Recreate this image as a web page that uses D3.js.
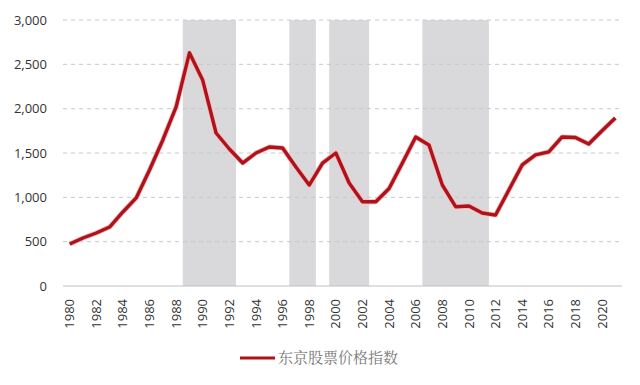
<!DOCTYPE html>
<html>
<head>
<meta charset="utf-8">
<script src="https://cdn.jsdelivr.net/npm/d3@7"></script>
<style>
  body { margin: 0; background: #fff; }
  svg text { font-family: "Open Sans", "Noto Sans", sans-serif; }
</style>
</head>
<body>
<svg id="chart" width="640" height="385"></svg>
<script>
// Tokyo stock price index, yearly
const years = d3.range(1980, 2022);
const values = [
  474, 541, 598, 665, 835, 993, 1308, 1647, 2020, 2630,
  2320, 1726, 1545, 1387, 1500, 1568, 1556, 1342, 1139, 1387,
  1500, 1162, 950, 950, 1100, 1387, 1680, 1590, 1139, 894,
  902, 823, 800, 1083, 1365, 1478, 1512, 1681, 1675, 1602,
  1750, 1895
];
// shaded periods (first year, last year)
const shaded = [[1989, 1992], [1997, 1998], [2000, 2002], [2007, 2011]];
const yTicks = [0, 500, 1000, 1500, 2000, 2500, 3000];
const xTicks = d3.range(1980, 2022, 2);
const seriesName = "东京股票价格指数";

const margin = { top: 20, right: 18, bottom: 99, left: 63 };
const width = 640 - margin.left - margin.right;
const height = 385 - margin.top - margin.bottom;

const svg = d3.select("#chart");
const g = svg.append("g")
  .attr("transform", `translate(${margin.left},${margin.top})`);

const x = d3.scaleBand()
  .domain(years)
  .range([0, width]);

const y = d3.scaleLinear()
  .domain([0, 3000])
  .range([height, 0]);

const cx = d => x(d) + x.bandwidth() / 2;

// Shaded bands
g.selectAll(".shade")
  .data(shaded)
  .enter()
  .append("rect")
  .attr("x", d => x(d[0]))
  .attr("width", d => x(d[1]) - x(d[0]) + x.bandwidth())
  .attr("y", y(3000))
  .attr("height", y(0) - y(3000))
  .attr("fill", "#d9d9db");

// Grid lines
g.selectAll(".grid")
  .data(yTicks.filter(d => d > 0))
  .enter()
  .append("line")
  .attr("x1", 0)
  .attr("x2", width)
  .attr("y1", d => y(d))
  .attr("y2", d => y(d))
  .attr("stroke", "#c8c8c8")
  .attr("stroke-width", 1)
  .attr("stroke-dasharray", "4,4");

// Baseline
g.append("line")
  .attr("x1", 0)
  .attr("x2", width)
  .attr("y1", y(0))
  .attr("y2", y(0))
  .attr("stroke", "#c0c0c0")
  .attr("stroke-width", 1);

// Y labels
g.selectAll(".ylab")
  .data(yTicks)
  .enter()
  .append("text")
  .attr("x", -16)
  .attr("y", d => y(d))
  .attr("dy", "0.35em")
  .attr("text-anchor", "end")
  .attr("font-size", 13)
  .attr("fill", "#333")
  .text(d => d3.format(",")(d));

// X labels (rotated)
g.selectAll(".xlab")
  .data(xTicks)
  .enter()
  .append("text")
  .attr("transform", d => `translate(${cx(d)},${height + 13}) rotate(-90)`)
  .attr("dy", "0.35em")
  .attr("text-anchor", "end")
  .attr("font-size", 13)
  .attr("fill", "#333")
  .text(d => d);

// Line
const line = d3.line()
  .x((d, i) => cx(years[i]))
  .y(d => y(d));

g.append("path")
  .datum(values)
  .attr("fill", "none")
  .attr("stroke", "#f2b8b8")
  .attr("stroke-width", 5)
  .attr("stroke-linejoin", "round")
  .attr("d", line);

g.append("path")
  .datum(values)
  .attr("fill", "none")
  .attr("stroke", "#b0121b")
  .attr("stroke-width", 3.4)
  .attr("stroke-linejoin", "round")
  .attr("d", line);

// Legend
const legend = svg.append("g")
  .attr("transform", "translate(240,358)");

legend.append("line")
  .attr("x1", 0)
  .attr("x2", 35)
  .attr("stroke", "#b0121b")
  .attr("stroke-width", 3);

legend.append("text")
  .attr("x", 38)
  .attr("dy", "0.35em")
  .attr("font-size", 15)
  .attr("fill", "#777")
  .style("font-family", "'Noto Serif CJK SC', 'Noto Sans CJK SC', serif")
  .text(seriesName);
</script>
</body>
</html>
